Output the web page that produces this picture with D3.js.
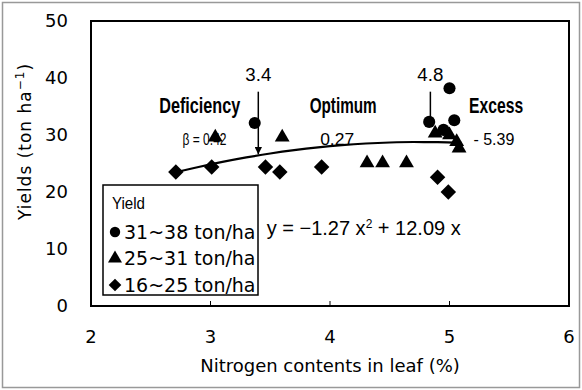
<!DOCTYPE html>
<html>
<head>
<meta charset="utf-8">
<script src="https://cdn.jsdelivr.net/npm/d3@7"></script>
<style>
body { margin: 0; background: #fff; }
svg { display: block; }
</style>
</head>
<body>
<script>
// leaf N (%) and yield (ton/ha), one pair per yield class
var highN = [3.37, 4.83, 5.00, 5.04, 4.95];
var highY = [32.1, 32.3, 38.2, 32.6, 30.9];
var midN = [3.04, 3.60, 4.31, 4.44, 4.64, 4.88, 5.00, 5.06, 5.08];
var midY = [29.6, 29.6, 25.1, 25.1, 25.1, 30.3, 30.0, 28.8, 27.7];
var lowN = [2.71, 3.01, 3.46, 3.58, 3.93, 4.90, 4.99];
var lowY = [23.5, 24.4, 24.4, 23.5, 24.4, 22.6, 20.0];

var legendLabels = ["31~38 ton/ha", "25~31 ton/ha", "16~25 ton/ha"];
var xTicks = [2, 3, 4, 5, 6];
var yTicks = [0, 10, 20, 30, 40, 50];

// fitted curve y = a x^2 + b x
var coefA = -1.27, coefB = 12.09;
var curveN = [2.7, 2.9, 3.1, 3.3, 3.5, 3.7, 3.9, 4.1, 4.3, 4.5, 4.7, 4.9, 5.1];

// annotations (data units)
var zoneLabels = ["Deficiency", "Optimum", "Excess"];
var zoneN = [2.91, 4.11, 5.39];
var zoneLen = [81, 67, 54];
var slopeLabels = ["β = 0.42", "0.27", "- 5.39"];
var slopeN = [2.95, 4.06, 5.2];
var thresholds = [3.4, 4.84];
var thresholdLabels = ["3.4", "4.8"];
var thresholdEnd = [null, 32.4];

d3.select("body").append("svg")
  .attr("width", 582)
  .attr("height", 390);

var svg = d3.select("svg"),
  margin = {top: 21, right: 13, bottom: 84, left: 91},
  width = +svg.attr("width") - margin.left - margin.right,
  height = +svg.attr("height") - margin.top - margin.bottom,
  g = svg.append("g").attr("transform", "translate(" + margin.left + "," + margin.top + ")");

svg.insert("rect", "g")
  .attr("x", 2.5).attr("y", 2.5)
  .attr("width", 577).attr("height", 385)
  .attr("fill", "#fff")
  .attr("stroke", "#999")
  .attr("stroke-width", 1.5);

var x = d3.scaleLinear().domain([2, 6]).range([0, width]);
var y = d3.scaleLinear().domain([0, 50]).range([height, 0]);

var f = function(n) { return coefA * n * n + coefB * n; };

// square diamond (rotated square)
var squareDiamond = {
  draw: function(ctx, size) {
    var r = Math.sqrt(size / 2);
    ctx.moveTo(0, -r); ctx.lineTo(r, 0); ctx.lineTo(0, r); ctx.lineTo(-r, 0); ctx.closePath();
  }
};

// plot frame
g.append("rect")
  .attr("width", width)
  .attr("height", height)
  .attr("fill", "none")
  .attr("stroke", "#000")
  .attr("stroke-width", 2);

// x ticks inside bottom
g.selectAll(".xtick")
  .data(xTicks.slice(1, -1))
  .enter().append("line")
  .attr("x1", function(d) { return x(d); })
  .attr("x2", function(d) { return x(d); })
  .attr("y1", height)
  .attr("y2", height - 5)
  .attr("stroke", "#000");

g.selectAll(".xlab")
  .data(xTicks)
  .enter().append("text")
  .attr("x", function(d) { return x(d); })
  .attr("y", height + 37)
  .attr("text-anchor", "middle")
  .style("font", "18px 'DejaVu Sans'")
  .text(function(d) { return d; });

g.selectAll(".ylab")
  .data(yTicks)
  .enter().append("text")
  .attr("x", -23)
  .attr("y", function(d) { return y(d); })
  .attr("dy", "0.36em")
  .attr("text-anchor", "end")
  .style("font", "18px 'DejaVu Sans'")
  .text(function(d) { return d; });

g.append("text")
  .attr("x", width / 2)
  .attr("y", height + 66)
  .attr("text-anchor", "middle")
  .style("font", "18px 'DejaVu Sans'")
  .text("Nitrogen contents in leaf (%)");

var yt = g.append("text")
  .attr("transform", "translate(-60," + (height / 2 - 22) + ") rotate(-90)")
  .attr("text-anchor", "middle")
  .style("font", "17px 'DejaVu Sans'")
  .style("letter-spacing", "1px");
yt.append("tspan").text("Yields (ton ha");
yt.append("tspan").attr("dy", -7).style("font-size", "12px").text("−1");
yt.append("tspan").attr("dy", 7).text(")");

// fitted curve
g.append("path")
  .datum(curveN)
  .attr("fill", "none")
  .attr("stroke", "#000")
  .attr("stroke-width", 2.2)
  .attr("d", d3.line()
    .x(function(d) { return x(d); })
    .y(function(d) { return y(f(d)); })
    .curve(d3.curveMonotoneX));

// zone and slope labels (condensed)
g.selectAll(".zone")
  .data(zoneLabels)
  .enter().append("text")
  .attr("x", function(d, i) { return x(zoneN[i]); })
  .attr("y", y(33.9))
  .attr("text-anchor", "middle")
  .attr("textLength", function(d, i) { return zoneLen[i]; })
  .attr("lengthAdjust", "spacingAndGlyphs")
  .style("font", "bold 22px 'Liberation Sans', Arial, sans-serif")
  .text(function(d) { return d; });

g.selectAll(".slope")
  .data(slopeLabels)
  .enter().append("text")
  .attr("x", function(d, i) { return x(slopeN[i]); })
  .attr("y", y(28.3))
  .attr("text-anchor", function(d, i) { return i == 2 ? "start" : "middle"; })
  .attr("textLength", function(d, i) { return [44, 34, 41][i]; })
  .attr("lengthAdjust", "spacingAndGlyphs")
  .style("font", "17px 'Liberation Sans', Arial, sans-serif")
  .text(function(d) { return d; });

// threshold arrows
svg.append("defs").append("marker")
  .attr("id", "arrow")
  .attr("viewBox", "0 0 10 10")
  .attr("refX", 10).attr("refY", 5)
  .attr("markerWidth", 5).attr("markerHeight", 5)
  .attr("orient", "auto")
  .append("path").attr("d", "M0,0L10,5L0,10z");

thresholds.forEach(function(t, i) {
  g.append("text")
    .attr("x", x(t))
    .attr("y", y(39.4))
    .attr("text-anchor", "middle")
    .attr("textLength", 26)
    .attr("lengthAdjust", "spacingAndGlyphs")
    .style("font", "18px 'Liberation Sans', Arial, sans-serif")
    .text(thresholdLabels[i]);
  var ln = g.append("line")
    .attr("x1", x(t)).attr("x2", x(t))
    .attr("y1", y(37.6))
    .attr("y2", thresholdEnd[i] == null ? y(f(t)) - 1 : y(thresholdEnd[i]))
    .attr("stroke", "#000")
    .attr("stroke-width", 1.5);
  if (thresholdEnd[i] == null) ln.attr("marker-end", "url(#arrow)");
});

g.append("text")
  .attr("x", x(3.47))
  .attr("y", y(12.4))
  .style("font", "20px 'Liberation Sans', Arial, sans-serif")
  .html("y = −1.27 x<tspan dy='-7' font-size='12'>2</tspan><tspan dy='7'> + 12.09 x</tspan>");

// markers
var symCircle = d3.symbol().type(d3.symbolCircle).size(115);
var symTri = d3.symbol().type(d3.symbolTriangle).size(95);
var symDia = d3.symbol().type(squareDiamond).size(120);

function plot(ns, ys, sym) {
  g.selectAll(null)
    .data(ns)
    .enter().append("path")
    .attr("transform", function(d, i) { return "translate(" + x(d) + "," + y(ys[i]) + ")"; })
    .attr("d", sym)
    .attr("fill", "#000");
}
plot(lowN, lowY, symDia);
plot(midN, midY, symTri);
plot(highN, highY, symCircle);

// legend
var lg = g.append("g").attr("transform", "translate(12,164)");
lg.append("rect")
  .attr("width", 155)
  .attr("height", 110)
  .attr("fill", "#fff")
  .attr("stroke", "#000")
  .attr("stroke-width", 1.5);
lg.append("text")
  .attr("x", 9).attr("y", 24)
  .attr("textLength", 33)
  .attr("lengthAdjust", "spacingAndGlyphs")
  .style("font", "16px 'Liberation Sans', Arial, sans-serif")
  .text("Yield");
var legendSyms = [
  d3.symbol().type(d3.symbolCircle).size(85),
  d3.symbol().type(d3.symbolTriangle).size(85),
  d3.symbol().type(squareDiamond).size(80)
];
legendLabels.forEach(function(l, i) {
  var yy = 47 + i * 26.5;
  lg.append("path")
    .attr("transform", "translate(12," + yy + ")")
    .attr("d", legendSyms[i])
    .attr("fill", "#000");
  lg.append("text")
    .attr("x", 21).attr("y", yy)
    .attr("dy", "0.36em")
    .style("font", "19px 'DejaVu Sans'")
    .text(l);
});
</script>
</body>
</html>
